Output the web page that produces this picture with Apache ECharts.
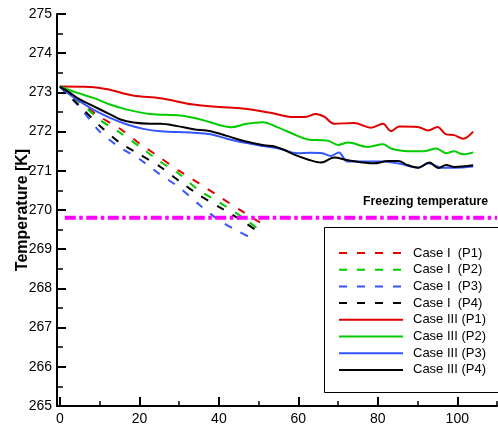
<!DOCTYPE html>
<html>
<head>
<meta charset="utf-8">
<script src="https://cdn.jsdelivr.net/npm/echarts@6/dist/echarts.min.js"></script>
<style>
  html, body { margin: 0; padding: 0; background: #fff; }
  #chart { width: 498px; height: 426px; }
</style>
</head>
<body>
<div id="chart"></div>
<script>
// 曲线数据 [时间, 温度K]
const caseIP1 = [[0, 273.15], [5, 272.75], [10, 272.38], [15, 272.08], [20, 271.7], [25, 271.35], [30, 271.0], [35, 270.68], [40, 270.35], [45, 270.02], [51, 269.64]];
const caseIP2 = [[0, 273.15], [5, 272.75], [10, 272.3], [15, 271.98], [20, 271.62], [25, 271.25], [30, 270.92], [35, 270.5], [40, 270.2], [45, 269.88], [50.5, 269.47]];
const caseIP3 = [[0, 273.15], [5, 272.62], [10, 272.0], [15, 271.6], [20, 271.3], [25, 270.92], [30, 270.58], [35, 270.14], [40, 269.74], [45, 269.45], [48.7, 269.26]];
const caseIP4 = [[0, 273.15], [5, 272.65], [10, 272.15], [15, 271.72], [20, 271.42], [25, 271.12], [30, 270.74], [35, 270.38], [40, 270.08], [45, 269.78], [50, 269.44]];

const caseIIIP1 = [[0, 273.15], [7.6, 273.14], [12, 273.08], [18.4, 272.92], [25.3, 272.85], [33.6, 272.69], [40, 272.63], [46, 272.59], [53, 272.48], [58.8, 272.37], [62, 272.38], [64.4, 272.45], [66.5, 272.38], [69, 272.2], [74, 272.22], [78.3, 272.1], [81.3, 272.2], [83.3, 272.01], [85.4, 272.13], [90, 272.12], [92.7, 272.03], [95, 272.12], [97.2, 271.93], [99.2, 271.91], [101.5, 271.82], [104, 272.0]];
const caseIIIP2 = [[0, 273.15], [4, 273.0], [8.4, 272.86], [12.6, 272.69], [16.9, 272.56], [22.7, 272.45], [30.3, 272.41], [35.4, 272.31], [40, 272.17], [43, 272.11], [47, 272.2], [51, 272.24], [55, 272.1], [58, 271.97], [62.4, 271.8], [65.7, 271.78], [67.4, 271.77], [70, 271.66], [72.5, 271.72], [77.5, 271.61], [81.3, 271.68], [83.3, 271.57], [87.6, 271.5], [91.7, 271.5], [94.7, 271.57], [97.2, 271.45], [99.2, 271.5], [101.5, 271.42], [104, 271.47]];
const caseIIIP3 = [[0, 273.15], [2.5, 272.94], [5, 272.77], [8.4, 272.56], [12.6, 272.35], [16.9, 272.18], [21, 272.07], [25.3, 272.01], [33.6, 271.97], [37.9, 271.93], [42, 271.82], [46.3, 271.72], [51.3, 271.63], [55, 271.57], [59.8, 271.45], [63, 271.46], [66, 271.45], [68.2, 271.38], [70.2, 271.47], [72.3, 271.24], [75.8, 271.24], [81.6, 271.24], [85.9, 271.17], [90.2, 271.08], [92.7, 271.19], [96, 271.08], [99.2, 271.08], [104, 271.11]];
const caseIIIP4 = [[0, 273.15], [2.5, 272.99], [5, 272.82], [8.4, 272.65], [12.6, 272.44], [15.2, 272.31], [18.5, 272.23], [22.7, 272.2], [25.3, 272.2], [29.5, 272.14], [33.6, 272.06], [37.9, 272.01], [42, 271.89], [46.3, 271.76], [51.3, 271.65], [54, 271.62], [56.5, 271.53], [58.8, 271.42], [62.4, 271.29], [65.7, 271.21], [69, 271.34], [72.5, 271.27], [79, 271.19], [82.6, 271.25], [85.1, 271.25], [87.6, 271.14], [90.2, 271.08], [93, 271.21], [95.2, 271.07], [97.2, 271.15], [99.2, 271.1], [104, 271.14]];

// 冰点线
const freezingLine = [[1.2, 269.8], [110, 269.8]];

// 图例名称
const seriesNames = ['Case I  (P1)', 'Case I  (P2)', 'Case I  (P3)', 'Case I  (P4)', 'Case III (P1)', 'Case III (P2)', 'Case III (P3)', 'Case III (P4)'];
const seriesData = [caseIP1, caseIP2, caseIP3, caseIP4, caseIIIP1, caseIIIP2, caseIIIP3, caseIIIP4];

// 刻度
const xMajorTicks = [0, 20, 40, 60, 80, 100];
const xMinorTicks = [10, 30, 50, 70, 90, 110];

const colorArr = ['#e00000', '#00cc00', '#3355ff', '#000000'];
const fontFamily = 'Liberation Sans, Arial, sans-serif';

const myChart = echarts.init(document.getElementById('chart'));

const seriesArr = seriesData.map((data, index) => {
    const dashed = index < 4;
    return {
        name: seriesNames[index],
        type: 'line',
        data: data,
        smooth: dashed ? 0.2 : 0.35,
        showSymbol: false,
        symbol: 'circle',
        symbolSize: 0,
        silent: true,
        z: dashed ? 2 : 3,
        lineStyle: {
            color: colorArr[index % 4],
            width: 2,
            type: dashed ? [8, 10] : 'solid'
        },
        itemStyle: {
            color: colorArr[index % 4]
        }
    }
});

seriesArr.push({
    type: 'line',
    data: freezingLine,
    showSymbol: false,
    symbol: 'none',
    silent: true,
    z: 4,
    lineStyle: {
        color: '#ff00ff',
        width: 4,
        type: [11, 3.5, 3.5, 3.5]
    }
});

const axisLineStyle = { color: '#000', width: 2 };

const option = {
    animation: false,
    backgroundColor: '#fff',
    grid: {
        left: 57,
        right: 1,
        top: 14,
        bottom: 18
    },
    xAxis: [
        {
            type: 'value',
            min: -0.75,
            max: 110,
            axisLine: { show: true, onZero: false, lineStyle: axisLineStyle },
            axisTick: { show: true, inside: true, length: 9, lineStyle: { color: '#000', width: 2 }, customValues: xMajorTicks },
            axisLabel: { color: '#000', fontSize: 14, fontFamily: fontFamily, margin: 6, customValues: xMajorTicks },
            splitLine: { show: false }
        },
        {
            type: 'value',
            min: -0.75,
            max: 110,
            position: 'bottom',
            axisLine: { show: false },
            axisTick: { show: true, inside: true, length: 5, lineStyle: { color: '#000', width: 1.5 }, customValues: xMinorTicks },
            axisLabel: { show: false },
            splitLine: { show: false }
        }
    ],
    yAxis: {
        type: 'value',
        min: 265,
        max: 275,
        interval: 1,
        name: 'Temperature [K]',
        nameLocation: 'middle',
        nameGap: 26,
        nameMoveOverlap: false,
        nameTextStyle: { color: '#000', fontSize: 16, fontWeight: 'bold', fontFamily: fontFamily },
        axisLine: { show: true, onZero: false, lineStyle: axisLineStyle },
        axisTick: { show: true, inside: true, length: 9, lineStyle: { color: '#000', width: 2 } },
        minorTick: { show: true, splitNumber: 2, length: 6, lineStyle: { color: '#000', width: 1.5 } },
        axisLabel: { color: '#000', fontSize: 14, fontFamily: fontFamily, margin: 5 },
        splitLine: { show: false }
    },
    legend: {
        data: seriesNames,
        orient: 'vertical',
        left: 338,
        top: 246,
        padding: 0,
        itemWidth: 64,
        itemHeight: 14,
        itemGap: 2.7,
        selectedMode: false,
        z: 6,
        itemStyle: { opacity: 0 },
        textStyle: {
            color: '#000',
            fontSize: 13,
            lineHeight: 14,
            fontFamily: fontFamily,
            padding: [0, 0, 0, 5]
        }
    },
    graphic: [
        {
            type: 'rect',
            left: 324,
            top: 227,
            z: 5,
            shape: { width: 200, height: 165 },
            style: { fill: '#fff', stroke: '#000', lineWidth: 1 }
        },
        {
            type: 'text',
            left: 363,
            top: 196,
            z: 5,
            style: {
                text: 'Freezing temperature',
                fill: '#000',
                font: 'bold 12.3px Liberation Sans, Arial, sans-serif'
            }
        }
    ],
    series: seriesArr
};

myChart.setOption(option);
</script>
</body>
</html>
